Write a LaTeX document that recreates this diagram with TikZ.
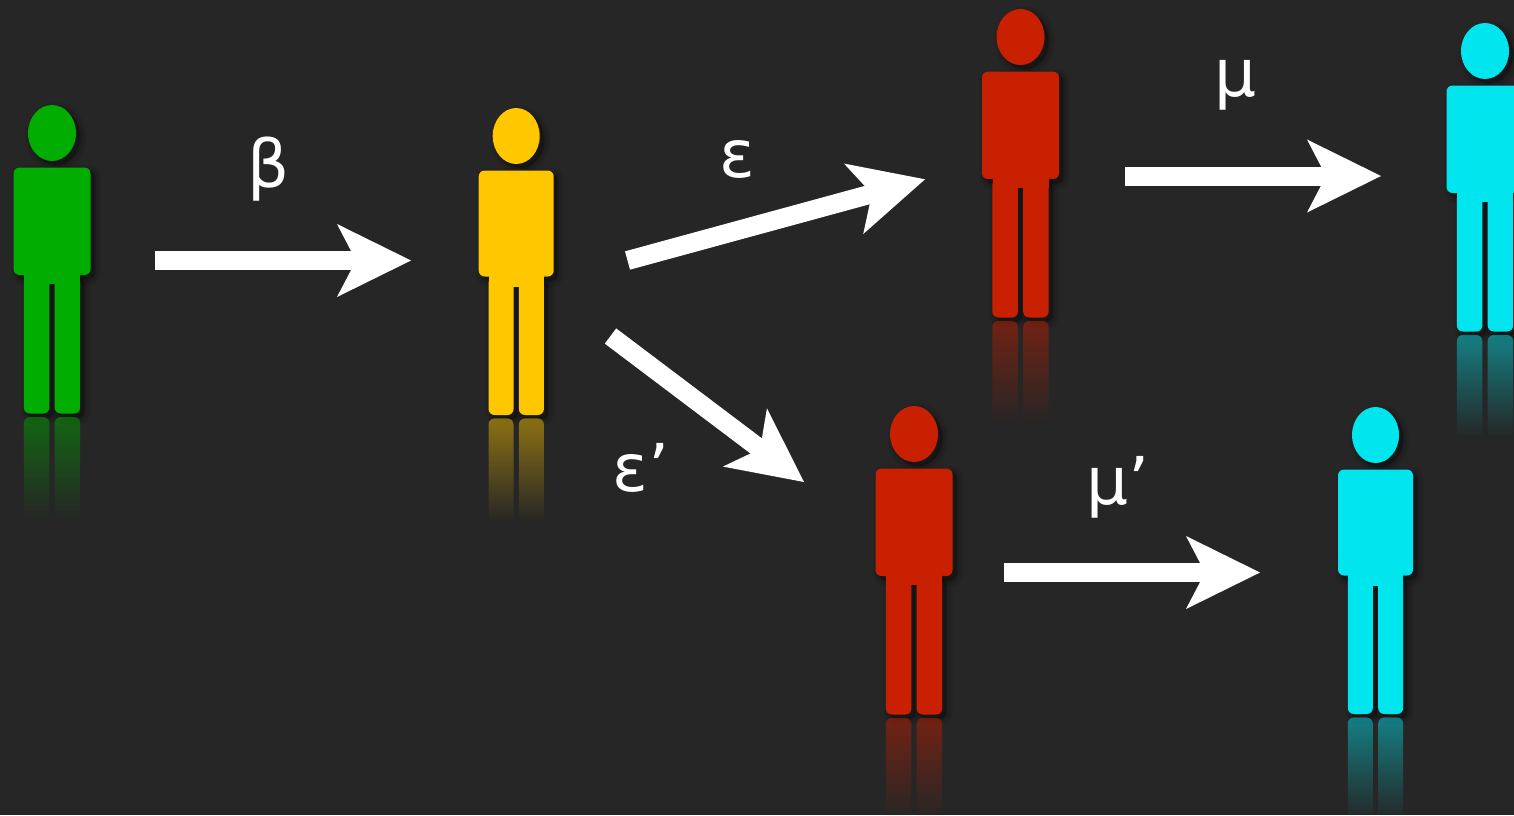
\documentclass[tikz,border=0pt]{standalone}
\usepackage{fontspec}
\setmainfont{DejaVu Sans}
\usetikzlibrary{shapes.geometric,arrows.meta,fadings}
\definecolor{backcol}{HTML}{262626}
\definecolor{pgreen}{HTML}{00AD00}
\definecolor{pyellow}{HTML}{FFC700}
\definecolor{pred}{HTML}{C82000}
\definecolor{pcyan}{HTML}{00E5EE}
\tikzstyle{softshadow} = [preaction={draw=black,fill=black,opacity=0.06,line width=13pt,transform canvas={shift={(4pt,-4pt)}}},preaction={draw=black,fill=black,opacity=0.08,line width=8pt,transform canvas={shift={(4pt,-4pt)}}},preaction={draw=black,fill=black,opacity=0.10,line width=3pt,transform canvas={shift={(4pt,-4pt)}}}]
\tikzstyle{head} = [ellipse, minimum width=48pt, minimum height=56pt, inner sep=0pt, outer sep=0pt, softshadow]
\tikzstyle{headn} = [head, minimum width=47pt]
\tikzstyle{body} = [rectangle, rounded corners=6pt, minimum width=77pt, minimum height=107.5pt, inner sep=0pt, outer sep=0pt, node distance=88.25pt, softshadow]
\tikzstyle{bodyn} = [body, minimum width=75pt, minimum height=106pt, node distance=87.5pt]
\tikzstyle{leg} = [rectangle, rounded corners=6pt, minimum width=25.5pt, minimum height=138.5pt, inner sep=0pt, outer sep=0pt, node distance=123pt, softshadow]
\tikzstyle{legn} = [leg, minimum width=25pt, minimum height=138pt, node distance=122.5pt]
\tikzstyle{hip} = [rectangle, minimum width=56pt, minimum height=14pt, inner sep=0pt, outer sep=0pt, node distance=55.75pt]
\tikzstyle{hipn} = [hip, minimum width=55pt, node distance=56.25pt]
\tikzstyle{mirror} = [rectangle, rounded corners=6pt, minimum width=25.5pt, minimum height=103pt, inner sep=0pt, outer sep=0pt, node distance=247.25pt, opacity=0.47, path fading=south]
\tikzstyle{mirrorn} = [mirror, minimum width=25pt, node distance=246.5pt]
\tikzstyle{arrow} = [white,line width=19pt,-{Stealth[length=74pt,width=73pt,inset=19pt,line width=0pt]}]
\tikzstyle{lab} = [text=white, inner sep=0pt, font=\fontsize{66}{66}\selectfont]

\begin{document}
\begin{tikzpicture}[x=1pt,y=1pt]
\path[use as bounding box,clip] (0,0) rectangle (1514,-815);
\fill[backcol] (0,0) rectangle (1514,-815);

\node (head1)[head,fill=pgreen] at (52,-133) {};
\node (body1)[body,fill=pgreen,below of=head1] {};
\node (legA1)[leg,fill=pgreen,below of=body1,xshift=-15.4pt] {};
\node (legB1)[leg,fill=pgreen,below of=body1,xshift=15.4pt] {};
\node (hip1)[hip,fill=pgreen,below of=body1] {};
\node (mirA1)[mirror,fill=pgreen,below of=body1,xshift=-15.4pt] {};
\node (mirB1)[mirror,fill=pgreen,below of=body1,xshift=15.4pt] {};

\node (head2)[headn,fill=pyellow] at (516.2,-136) {};
\node (body2)[bodyn,fill=pyellow,below of=head2] {};
\node (legA2)[legn,fill=pyellow,below of=body2,xshift=-15.2pt] {};
\node (legB2)[legn,fill=pyellow,below of=body2,xshift=15.2pt] {};
\node (hip2)[hipn,fill=pyellow,below of=body2] {};
\node (mirA2)[mirrorn,fill=pyellow,below of=body2,xshift=-15.2pt] {};
\node (mirB2)[mirrorn,fill=pyellow,below of=body2,xshift=15.2pt] {};

\node (head3)[head,fill=pred] at (1020.5,-37) {};
\node (body3)[body,fill=pred,below of=head3] {};
\node (legA3)[leg,fill=pred,below of=body3,xshift=-15.4pt] {};
\node (legB3)[leg,fill=pred,below of=body3,xshift=15.4pt] {};
\node (hip3)[hip,fill=pred,below of=body3] {};
\node (mirA3)[mirror,fill=pred,below of=body3,xshift=-15.4pt] {};
\node (mirB3)[mirror,fill=pred,below of=body3,xshift=15.4pt] {};

\node (head4)[head,fill=pcyan] at (1485,-51) {};
\node (body4)[body,fill=pcyan,below of=head4] {};
\node (legA4)[leg,fill=pcyan,below of=body4,xshift=-15.4pt] {};
\node (legB4)[leg,fill=pcyan,below of=body4,xshift=15.4pt] {};
\node (hip4)[hip,fill=pcyan,below of=body4] {};
\node (mirA4)[mirror,fill=pcyan,below of=body4,xshift=-15.4pt] {};
\node (mirB4)[mirror,fill=pcyan,below of=body4,xshift=15.4pt] {};

\node (head5)[head,fill=pred] at (914,-434) {};
\node (body5)[body,fill=pred,below of=head5] {};
\node (legA5)[leg,fill=pred,below of=body5,xshift=-15.4pt] {};
\node (legB5)[leg,fill=pred,below of=body5,xshift=15.4pt] {};
\node (hip5)[hip,fill=pred,below of=body5] {};
\node (mirA5)[mirror,fill=pred,below of=body5,xshift=-15.4pt] {};
\node (mirB5)[mirror,fill=pred,below of=body5,xshift=15.4pt] {};

\node (head6)[headn,fill=pcyan] at (1375.5,-435) {};
\node (body6)[bodyn,fill=pcyan,below of=head6] {};
\node (legA6)[legn,fill=pcyan,below of=body6,xshift=-15.2pt] {};
\node (legB6)[legn,fill=pcyan,below of=body6,xshift=15.2pt] {};
\node (hip6)[hipn,fill=pcyan,below of=body6] {};
\node (mirA6)[mirrorn,fill=pcyan,below of=body6,xshift=-15.2pt] {};
\node (mirB6)[mirrorn,fill=pcyan,below of=body6,xshift=15.2pt] {};

\coordinate (betaS) at (155,-260.5);
\coordinate (betaE) at (411,-260.5);
\coordinate (epsS) at (627.5,-260.5);
\coordinate (epsE) at (925,-179.3);
\coordinate (epspS) at (610.5,-336);
\coordinate (epspE) at (804,-482);
\coordinate (muS) at (1125,-176);
\coordinate (muE) at (1381,-176);
\coordinate (mupS) at (1004,-572.5);
\coordinate (mupE) at (1260,-572.5);
\draw [arrow] (betaS) -- (betaE);
\draw [arrow] (epsS) -- (epsE);
\draw [arrow] (epspS) -- (epspE);
\draw [arrow] (muS) -- (muE);
\draw [arrow] (mupS) -- (mupE);

\node (beta)[lab] at (269,-169) {β};
\node (eps)[lab] at (737,-159) {ε};
\node (epsp)[lab] at (641,-468) {ε’};
\node (mu)[lab] at (1235,-85) {μ};
\node (mup)[lab] at (1118,-487) {μ’};

\end{tikzpicture}
\end{document}
